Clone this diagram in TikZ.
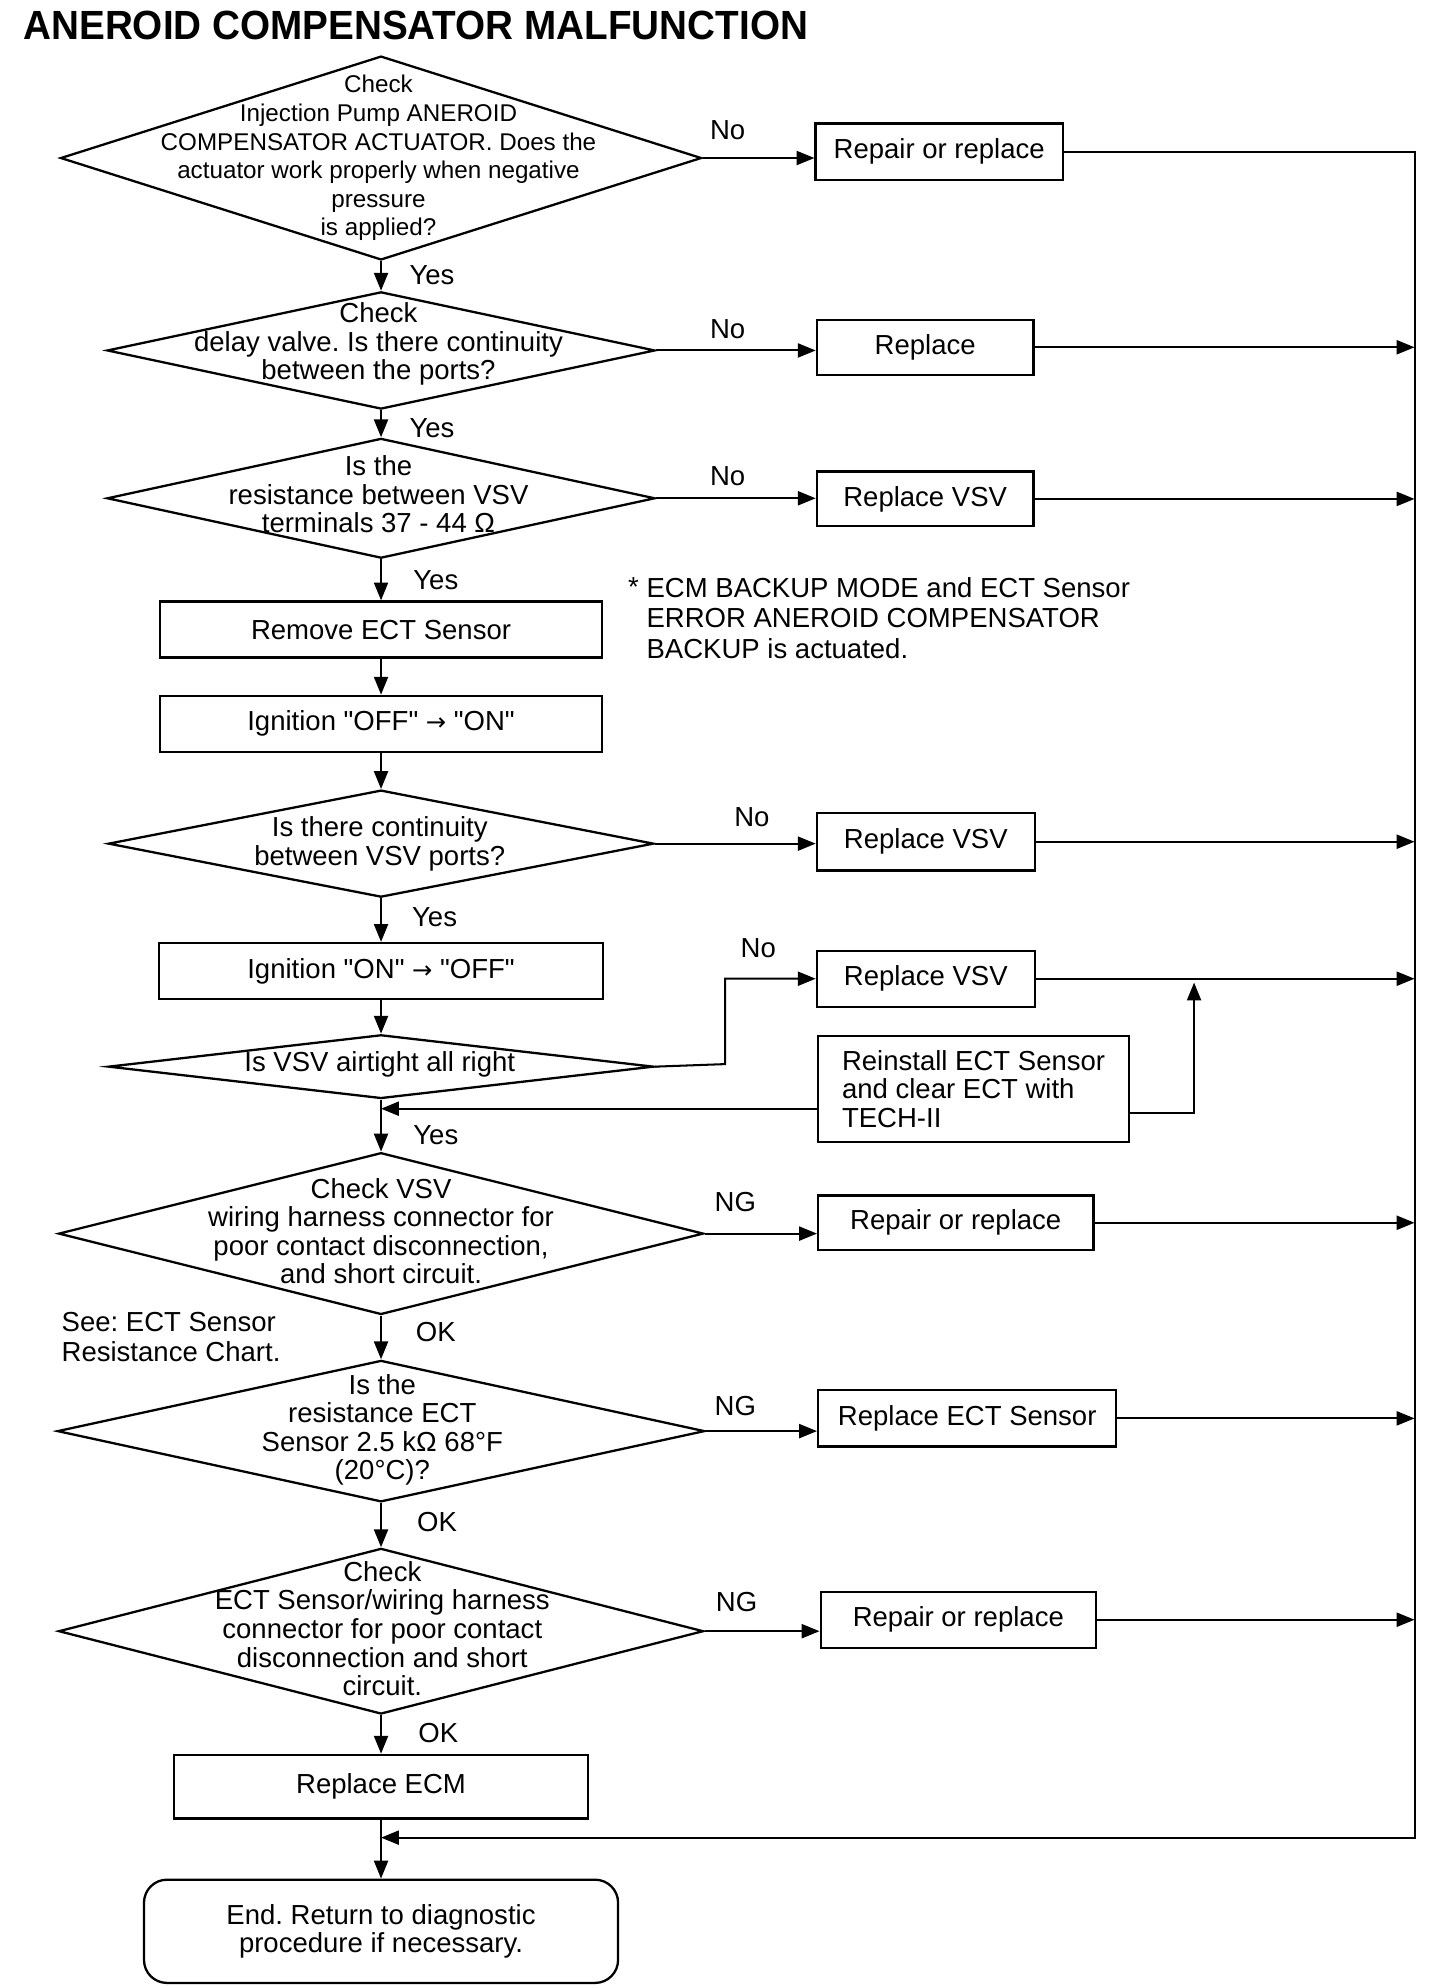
\documentclass[tikz,border=0pt]{standalone}
\usepackage{fontspec}
\setmainfont{Liberation Sans}[Ligatures=TeXOff]
\newfontfamily\symfont{DejaVu Sans}
\usetikzlibrary{shapes.geometric,arrows.meta,calc}
\newcommand{\rarr}{{\symfont\fontsize{9.5pt}{9.5pt}\selectfont →}}
\frenchspacing
\begin{document}
\begin{tikzpicture}[x=0.5pt,y=-0.5pt,
  every node/.style={font=\fontsize{10.8pt}{11.2pt}\selectfont},
  box/.style={draw, line width=0.9pt, inner sep=0pt, align=center},
  dia/.style={draw, diamond, line width=0.9pt, inner sep=0pt},
  txt/.style={align=center, inner sep=0pt},
  lbl/.style={inner sep=0pt},
  arr/.style={line width=0.8pt, -{Triangle[length=7pt,width=5.5pt]}},
  ln/.style={line width=0.8pt}]

\useasboundingbox (0,0) rectangle (1130,1560);

% title
\node[anchor=base west, inner sep=0pt, font=\fontsize{16pt}{16pt}\selectfont\bfseries, xscale=0.948] (title) at (18,31) {ANEROID COMPENSATOR MALFUNCTION};

% decisions
\node[dia, minimum width=251.5pt, minimum height=80pt] (d1) at (299,124) {};
\node[txt, font=\fontsize{9.5pt}{11.2pt}\selectfont] (d1t) at (297,124) {Check\\Injection Pump ANEROID\\COMPENSATOR ACTUATOR. Does the\\actuator work properly when negative\\pressure\\is applied?};

\node[dia, minimum width=215pt, minimum height=46pt] (d2) at (299,275) {};
\node[txt] (d2t) at (297,270) {Check\\delay valve. Is there continuity\\between the ports?};

\node[dia, minimum width=215pt, minimum height=47pt] (d3) at (299,391) {};
\node[txt] (d3t) at (297,388) {Is the\\resistance between VSV\\terminals 37 - 44 Ω};

\node[box, minimum width=173.5pt, minimum height=22pt] (b1) at (299,494) {Remove ECT Sensor};
\node[box, minimum width=173.5pt, minimum height=22pt] (b2) at (299,568) {Ignition "OFF" \rarr\ "ON"};

\node[dia, minimum width=214pt, minimum height=42pt] (d4) at (299,662) {};
\node[txt] (d4t) at (298,662) {Is there continuity\\between VSV ports?};

\node[box, minimum width=174pt, minimum height=22pt] (b3) at (299,762) {Ignition "ON" \rarr\ "OFF"};

\node[dia, minimum width=214pt, minimum height=25pt] (d5) at (299,837) {};
\node[txt] (d5t) at (298,835) {Is VSV airtight all right};

\node[dia, minimum width=253pt, minimum height=63.5pt] (d6) at (299,968) {};
\node[txt] (d6t) at (299,966) {Check VSV\\wiring harness connector for\\poor contact disconnection,\\and short circuit.};

\node[dia, minimum width=254pt, minimum height=55.5pt] (d7) at (299,1123) {};
\node[txt] (d7t) at (300,1122) {Is the\\resistance ECT\\Sensor 2.5 kΩ 68°F\\(20°C)?};

\node[dia, minimum width=253pt, minimum height=65pt] (d8) at (299,1280) {};
\node[txt] (d8t) at (300,1278) {Check\\ECT Sensor/wiring harness\\connector for poor contact\\disconnection and short\\circuit.};

\node[box, minimum width=162.5pt, minimum height=25pt] (b4) at (299,1402) {Replace ECM};
\node[box, rounded corners=9pt, minimum width=186pt, minimum height=40.5pt] (end) at (299,1515.5) {End. Return to diagnostic\\procedure if necessary.};

% right boxes
\node[box, minimum width=97pt, minimum height=22pt] (r1) at (737,119) {Repair or replace};
\node[box, minimum width=85pt, minimum height=21.5pt] (r2) at (726,272.5) {Replace};
\node[box, minimum width=85pt, minimum height=21.5pt] (r3) at (726,391.5) {Replace VSV};
\node[box, minimum width=85.5pt, minimum height=22.5pt] (r4) at (726.5,660.5) {Replace VSV};
\node[box, minimum width=85.5pt, minimum height=22pt] (r5) at (726.5,768) {Replace VSV};
\node[box, align=left, minimum width=122pt, minimum height=41.5pt] (r6) at (764,854.5) {Reinstall ECT Sensor\\and clear ECT with\\TECH-II};
\node[box, minimum width=108pt, minimum height=21.5pt] (r7) at (750,959.5) {Repair or replace};
\node[box, minimum width=117pt, minimum height=22pt] (r8) at (759,1113) {Replace ECT Sensor};
\node[box, minimum width=108pt, minimum height=22pt] (r9) at (752,1271) {Repair or replace};

% notes
\node[lbl] (star) at (497,461) {*};
\node[lbl, anchor=west, align=left, font=\fontsize{10.8pt}{12pt}\selectfont] (note) at (507,485) {ECM BACKUP MODE and ECT Sensor\\ERROR ANEROID COMPENSATOR\\BACKUP is actuated.};
\node[lbl, anchor=west, align=left, font=\fontsize{10.8pt}{12pt}\selectfont] (see) at (48,1049) {See: ECT Sensor\\Resistance Chart.};

% labels
\node[lbl] (n1) at (571,102) {No};
\node[lbl] (n2) at (571,258) {No};
\node[lbl] (n3) at (571,374) {No};
\node[lbl] (n4) at (590,641) {No};
\node[lbl] (n5) at (595,744) {No};
\node[lbl] (y1) at (339,216) {Yes};
\node[lbl] (y2) at (339,336) {Yes};
\node[lbl] (y3) at (342,455) {Yes};
\node[lbl] (y4) at (341,720) {Yes};
\node[lbl] (y5) at (342,891) {Yes};
\node[lbl] (g1) at (577,943) {NG};
\node[lbl] (g2) at (577,1103) {NG};
\node[lbl] (g3) at (578,1257) {NG};
\node[lbl] (k1) at (342,1045) {OK};
\node[lbl] (k2) at (343,1194) {OK};
\node[lbl] (k3) at (344,1360) {OK};

% coordinates
\coordinate (rb) at (1110,1442);
\coordinate (mg) at (299,1442);
\coordinate (k5) at (569,835);
\coordinate (u6) at (937,873);
\coordinate (u6t) at (937,771);
\coordinate (j6) at (299,870);

% trunk
\draw[arr] (d1.south) -- (d2.north);
\draw[arr] (d2.south) -- (d3.north);
\draw[arr] (d3.south) -- (b1.north);
\draw[arr] (b1.south) -- (b2.north);
\draw[arr] (b2.south) -- (d4.north);
\draw[arr] (d4.south) -- (b3.north);
\draw[arr] (b3.south) -- (d5.north);
\draw[arr] (d5.south) -- (d6.north);
\draw[arr] (d6.south) -- (d7.north);
\draw[arr] (d7.south) -- (d8.north);
\draw[arr] (d8.south) -- (b4.north);
\draw[arr] (b4.south) -- (end.north);

% no / ng branches
\draw[arr] (d1.east) -- (d1.east -| r1.west);
\draw[arr] (d2.east) -- (d2.east -| r2.west);
\draw[arr] (d3.east) -- (d3.east -| r3.west);
\draw[arr] (d4.east) -- (d4.east -| r4.west);
\draw[arr] (d5.east) -- (k5) -- (k5 |- r5.west) -- (r5.west);
\draw[arr] (d6.east) -- (d6.east -| r7.west);
\draw[arr] (d7.east) -- (d7.east -| r8.west);
\draw[arr] (d8.east) -- (d8.east -| r9.west);

% right return column
\draw[arr] (r1.east) -- (r1.east -| rb) -- (rb) -- (mg);
\draw[arr] (r2.east) -- (r2.east -| rb);
\draw[arr] (r3.east) -- (r3.east -| rb);
\draw[arr] (r4.east) -- (r4.east -| rb);
\draw[arr] (r5.east) -- (r5.east -| rb);
\draw[arr] (r7.east) -- (r7.east -| rb);
\draw[arr] (r8.east) -- (r8.east -| rb);
\draw[arr] (r9.east) -- (r9.east -| rb);

% reinstall box connectors
\draw[arr] (r6.east |- u6) -- (u6) -- (u6t);
\draw[arr] (r6.west |- j6) -- (j6);
\end{tikzpicture}
\end{document}
